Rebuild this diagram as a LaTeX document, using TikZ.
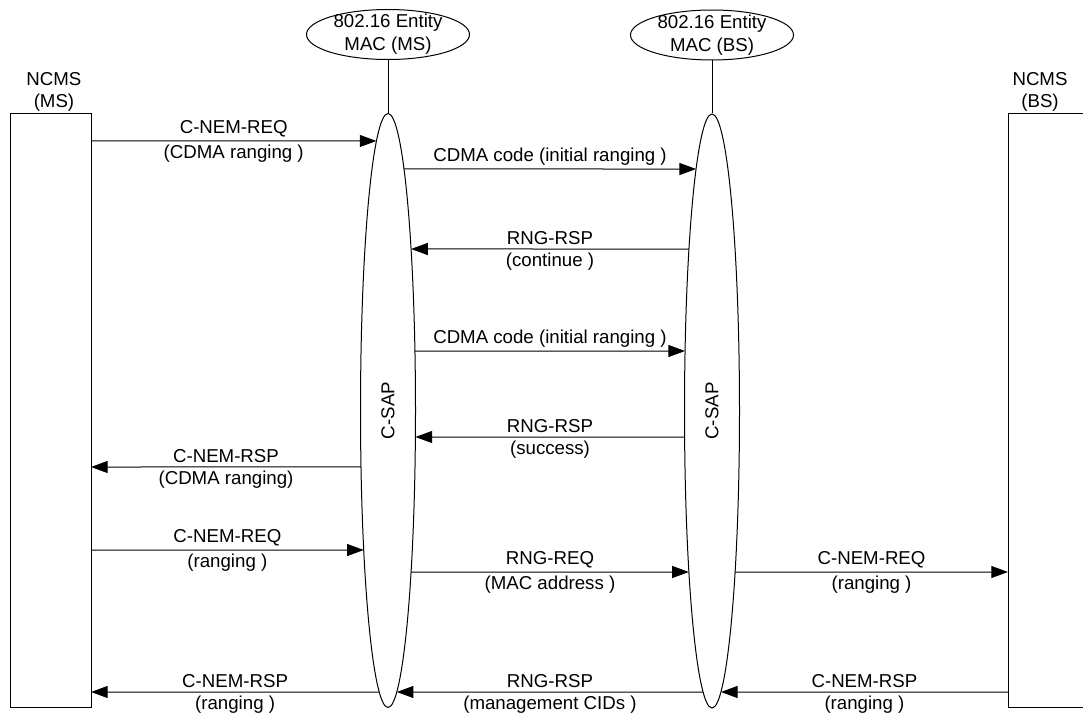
\documentclass[tikz,border=0pt]{standalone}
\usepackage{fontspec}
\setmainfont{Liberation Sans}
\usetikzlibrary{arrows.meta, positioning, shapes.geometric, intersections}

% message between two lifelines at height #1
\newcommand{\sapmsg}[6]{%
  \path[name path=hl] (0,#1) -- (1083,#1);
  \draw[msgarrow, #4,
    name intersections={of=#2 and hl, name=L, sort by=hl},
    name intersections={of=#3 and hl, name=R, sort by=hl}]
    (L-2) -- node[above, msgtext] {#5} (R-1);
  \if\relax\detokenize{#6}\relax\else
    \path (L-2) -- node[below, msgtext] {#6} (R-1);
  \fi}

\begin{document}
\begin{tikzpicture}[x=0.75pt, y=-0.75pt, line width=0.75pt,
  font=\fontsize{14}{17}\selectfont,
  >={Triangle[length=12.5pt, width=9pt]},
  ncms/.style={draw, rectangle, minimum height=444.75pt, inner sep=0pt},
  sap/.style={draw, ellipse, minimum width=41.25pt, minimum height=445.5pt, inner sep=0pt},
  entity/.style={draw, ellipse, align=center, minimum width=122.25pt,
    minimum height=37.5pt, inner xsep=0pt, inner ysep=-4pt},
  boxlabel/.style={align=center, inner sep=1pt},
  msgarrow/.style={line width=0.75pt},
  msgtext/.style={inner sep=2.5pt}]

\useasboundingbox (0,0) rectangle (1083,717);
\clip (0,0) rectangle (1083,717);

% Lifelines
\node[ncms, minimum width=60.75pt, name path=ncmsMS] (ncmsMS) at (50.5,410.5) {};
\node[ncms, minimum width=63pt, name path=ncmsBS] (ncmsBS) at (1050,410.5) {};
\node[sap, name path=sapMS] (sapMS) at (388,410.5) {};
\node[sap, name path=sapBS] (sapBS) at (712,411) {};
\node[rotate=90] (csapMS) at (sapMS) {C-SAP};
\node[rotate=90] (csapBS) at (sapBS) {C-SAP};

% Entities
\node[entity, above=39.75pt of sapMS] (entMS) {802.16 Entity\\MAC (MS)};
\node[entity, above=39.75pt of sapBS] (entBS) {802.16 Entity\\MAC (BS)};
\node[boxlabel, above=0pt of ncmsMS, xshift=2.6pt] (lblMS) {NCMS\\(MS)};
\node[boxlabel, above=0pt of ncmsBS, xshift=-7.5pt] (lblBS) {NCMS\\(BS)};

\draw (entMS) -- (sapMS);
\draw (entBS) -- (sapBS);

% Messages
\sapmsg{141}{ncmsMS}{sapMS}{->}{C-NEM-REQ}{(CDMA ranging )}
\sapmsg{169}{sapMS}{sapBS}{->}{CDMA code (initial ranging )}{}
\sapmsg{249}{sapMS}{sapBS}{<-}{RNG-RSP}{(continue )}
\sapmsg{351}{sapMS}{sapBS}{->}{CDMA code (initial ranging )}{}
\sapmsg{437}{sapMS}{sapBS}{<-}{RNG-RSP}{(success)}
\sapmsg{467}{ncmsMS}{sapMS}{<-}{C-NEM-RSP}{(CDMA ranging)}
\sapmsg{550}{ncmsMS}{sapMS}{->}{C-NEM-REQ}{(ranging )}
\sapmsg{572}{sapMS}{sapBS}{->}{RNG-REQ}{(MAC address )}
\sapmsg{572}{sapBS}{ncmsBS}{->}{C-NEM-REQ}{(ranging )}
\sapmsg{692}{ncmsMS}{sapMS}{<-}{C-NEM-RSP}{(ranging )}
\sapmsg{692}{sapMS}{sapBS}{<-}{RNG-RSP}{(management CIDs )}
\sapmsg{692}{sapBS}{ncmsBS}{<-}{C-NEM-RSP}{(ranging )}

\end{tikzpicture}
\end{document}
